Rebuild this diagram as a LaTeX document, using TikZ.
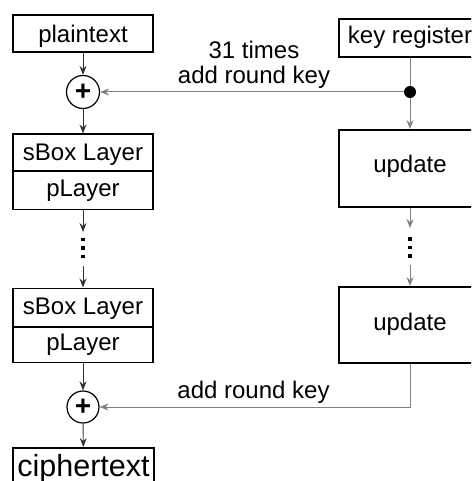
\documentclass[tikz,border=0pt]{standalone}
\usepackage{fontspec}
\setmainfont{Liberation Sans}
\usetikzlibrary{arrows.meta}
\tikzset{
  fnt/.style={font=\fontsize{24}{25}\selectfont},
  lbox/.style={draw=black, line width=1.5pt, rectangle, inner sep=0pt,
    minimum width=140pt, fnt, text depth=5pt},
  rbox/.style={draw=black, line width=2pt, rectangle, inner sep=0pt,
    minimum width=142pt, fnt, text depth=5pt},
  xorc/.style={draw=black, line width=1.2pt, circle, inner sep=0pt,
    minimum size=33pt, font=\fontsize{28}{28}\selectfont\bfseries},
  tip/.style={-{Stealth[length=9pt,width=7pt,inset=3pt]}},
  conn/.style={tip, draw=black!80, line width=0.9pt},
  gconn/.style={tip, draw=black!50, line width=1pt},
  gline/.style={draw=black!50, line width=1pt},
  vdot/.style={fill=black, rectangle, inner sep=0pt, minimum size=3.8pt},
  jdot/.style={fill=black, circle, inner sep=0pt, minimum size=12pt},
  lab/.style={fnt, align=center, inner sep=0pt}
}
\begin{document}
\begin{tikzpicture}[x=1pt, y=-1pt]
\useasboundingbox (0,0) rectangle (471,481);
\clip (0,0) rectangle (471,481);
% left column
\node[lbox, minimum height=37pt, text height=23pt] (plain) at (83,33.3) {plaintext};
\node[xorc] (c1) at (83,92) {+};
\node[lbox, minimum height=37pt, text height=21pt] (sb1) at (83,152.7) {sBox Layer};
\node[lbox, minimum height=38pt, text height=17pt] (pl1) at (83,190.5) {pLayer};
\coordinate (l1a) at (83,232);
\node[vdot] (ld1) at (83,239.5) {};
\node[vdot] (ld2) at (83,248) {};
\node[vdot] (ld3) at (83,256.5) {};
\coordinate (l1b) at (83,266);
\node[lbox, minimum height=38.5pt, text height=19pt] (sb2) at (83,307.5) {sBox Layer};
\node[lbox, minimum height=36pt, text height=16pt] (pl2) at (83,344.7) {pLayer};
\node[xorc, minimum size=32pt] (c2) at (83,407) {+};
\node[lbox, anchor=north, minimum width=141pt, minimum height=53pt,
  font=\fontsize{30.5}{31}\selectfont, text depth=7pt, text height=11pt] (ciph) at (83.5,447) {ciphertext};
% right column
\node[lbox, minimum width=142pt, minimum height=38pt, text height=17pt] (key) at (410,38) {key register};
\node[jdot] (jd) at (410,92) {};
\node[rbox, minimum height=77pt, text height=13pt] (up1) at (410,168.5) {update};
\coordinate (r1a) at (410,228);
\node[vdot] (rd1) at (410,239) {};
\node[vdot] (rd2) at (410,247.5) {};
\node[vdot] (rd3) at (410,256) {};
\coordinate (r1b) at (410,265);
\node[rbox, minimum height=76pt, text height=16pt] (up2) at (410,325) {update};
% labels
\node[lab] (t1) at (254,64.4) {31 times\\add round key};
\node[lab] (t2) at (253.5,391.9) {add round key};
% connectors left
\draw[conn] (plain) -- (c1);
\draw[conn] (c1) -- (sb1);
\draw[conn] (pl1) -- (l1a);
\draw[conn] (l1b) -- (sb2);
\draw[conn] (pl2) -- (c2);
\draw[conn] (c2) -- (ciph);
% connectors right
\draw[gline] (key) -- (jd);
\draw[gconn] (jd) -- (up1);
\draw[gconn] (jd) -- (c1);
\draw[gconn] (up1) -- (r1a);
\draw[gconn] (r1b) -- (up2);
\draw[gconn] (up2.south) |- (c2);
\end{tikzpicture}
\end{document}
